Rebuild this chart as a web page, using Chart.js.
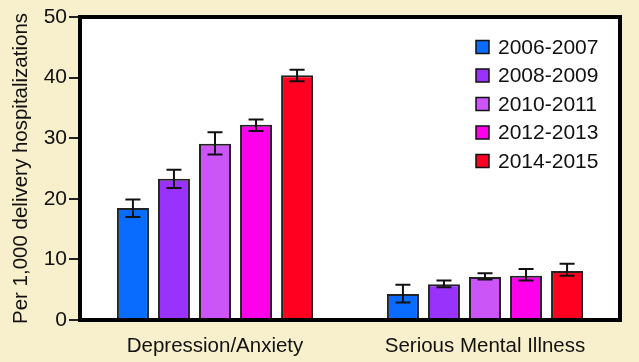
<!DOCTYPE html>
<html>
<head>
<meta charset="utf-8">
<script src="https://cdn.jsdelivr.net/npm/chart.js@4"></script>
<style>
  html, body { margin: 0; padding: 0; background: #f8f0cc; }
  #wrap { width: 639px; height: 362px; }
</style>
</head>
<body>
<div id="wrap"><canvas id="chart_1" width="639" height="362"></canvas></div>
<script>
const categories = ["Depression/Anxiety", "Serious Mental Illness"];
const periods = ["2006-2007", "2008-2009", "2010-2011", "2012-2013", "2014-2015"];
const colors = ["#0a6cff", "#9933fb", "#cc55f8", "#ff00ea", "#ff0020"];

// rates per period, one entry per category
const rate_0607 = [18.5, 4.3];
const rate_0809 = [23.3, 5.9];
const rate_1011 = [29.1, 7.1];
const rate_1213 = [32.2, 7.3];
const rate_1415 = [40.4, 8.1];

// error bars (low, high)
const low_0607 = [17.0, 2.9];
const high_0607 = [19.9, 5.8];
const low_0809 = [21.8, 5.4];
const high_0809 = [24.8, 6.5];
const low_1011 = [27.3, 6.7];
const high_1011 = [31.0, 7.7];
const low_1213 = [31.2, 6.5];
const high_1213 = [33.1, 8.4];
const low_1415 = [39.4, 7.3];
const high_1415 = [41.3, 9.3];

const yTicks = [0, 10, 20, 30, 40, 50];

const rates = [rate_0607, rate_0809, rate_1011, rate_1213, rate_1415];
const lows = [low_0607, low_0809, low_1011, low_1213, low_1415];
const highs = [high_0607, high_0809, high_1011, high_1213, high_1415];

const FONT = "'Liberation Sans', Arial, sans-serif";

// error bars drawn from the y scale
const errorBars = {
  id: 'errorBars',
  afterDatasetsDraw(chart) {
    const ctx = chart.ctx;
    const y = chart.scales.y;
    ctx.save();
    ctx.strokeStyle = '#111';
    ctx.lineWidth = 2;
    chart.data.datasets.forEach(function (ds, i) {
      const meta = chart.getDatasetMeta(i);
      meta.data.forEach(function (bar, j) {
        const yl = y.getPixelForValue(lows[i][j]);
        const yh = y.getPixelForValue(highs[i][j]);
        const x = bar.x;
        ctx.beginPath();
        ctx.moveTo(x, yl); ctx.lineTo(x, yh);
        ctx.moveTo(x - 7.5, yl); ctx.lineTo(x + 7.5, yl);
        ctx.moveTo(x - 7.5, yh); ctx.lineTo(x + 7.5, yh);
        ctx.stroke();
      });
    });
    ctx.restore();
  }
};

// white plot box, black frame and legend inside the box
const frameAndLegend = {
  id: 'frameAndLegend',
  beforeDraw(chart) {
    const a = chart.chartArea;
    const ctx = chart.ctx;
    ctx.save();
    ctx.fillStyle = '#f8f0cc';
    ctx.fillRect(0, 0, chart.width, chart.height);
    ctx.fillStyle = '#ffffff';
    ctx.fillRect(a.left, a.top, a.right - a.left, a.bottom - a.top);
    ctx.restore();
  },
  afterDraw(chart) {
    const a = chart.chartArea;
    const ctx = chart.ctx;
    ctx.save();
    ctx.strokeStyle = '#000';
    ctx.lineWidth = 4;
    ctx.strokeRect(a.left, a.top, a.right - a.left, a.bottom - a.top);

    ctx.font = '21px ' + FONT;
    ctx.textBaseline = 'middle';
    ctx.textAlign = 'left';
    chart.data.datasets.forEach(function (ds, i) {
      const bx = a.left + 396;
      const by = a.top + 30 + i * 28.5;
      ctx.fillStyle = ds.backgroundColor;
      ctx.fillRect(bx, by - 6.5, 13, 13);
      ctx.lineWidth = 1.5;
      ctx.strokeStyle = '#111';
      ctx.strokeRect(bx, by - 6.5, 13, 13);
      ctx.fillStyle = '#111';
      ctx.fillText(ds.label, bx + 22, by + 1);
    });
    ctx.restore();
  }
};

const ctx = document.getElementById('chart_1').getContext('2d');
const chart = new Chart(ctx, {
  type: 'bar',
  data: {
    labels: categories,
    datasets: periods.map(function (p, i) {
      return {
        label: p,
        data: rates[i],
        backgroundColor: colors[i],
        borderColor: '#222',
        borderWidth: 2,
        barPercentage: 0.78,
        categoryPercentage: 0.76
      };
    })
  },
  options: {
    responsive: false,
    animation: false,
    layout: { padding: { left: 0, right: 19, top: 17, bottom: 0 } },
    plugins: {
      legend: { display: false },
      tooltip: { enabled: false }
    },
    scales: {
      x: {
        grid: { display: false },
        border: { display: false },
        ticks: { color: '#111', font: { family: FONT, size: 20.5 }, padding: 6 },
        afterFit(scale) { scale.height = 42; }
      },
      y: {
        min: 0,
        max: 50,
        afterBuildTicks(scale) { scale.ticks = yTicks.map(function (v) { return { value: v }; }); },
        grid: { drawOnChartArea: false, drawTicks: true, tickLength: 11, color: '#222', lineWidth: 2 },
        border: { display: false },
        ticks: { color: '#111', font: { family: FONT, size: 21 }, padding: 2 },
        title: {
          display: true,
          text: 'Per 1,000 delivery hospitalizations',
          color: '#111',
          font: { family: FONT, size: 20.5 },
          padding: { top: 9, bottom: 0 }
        },
        afterFit(scale) { scale.width = 80; }
      }
    }
  },
  plugins: [errorBars, frameAndLegend]
});
</script>
</body>
</html>
